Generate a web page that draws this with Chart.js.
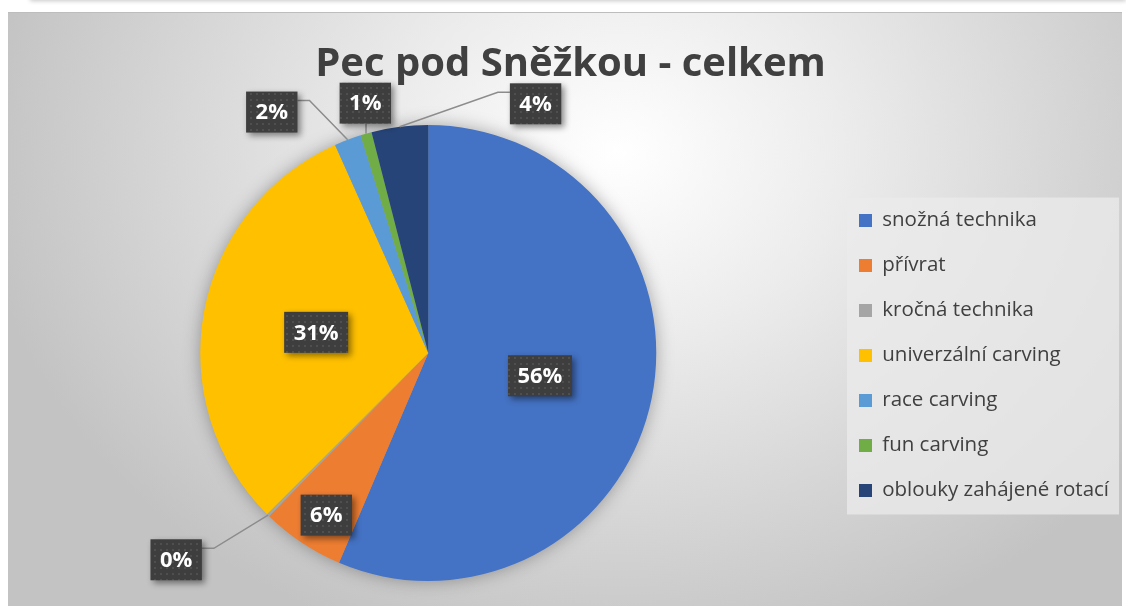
<!DOCTYPE html>
<html>
<head>
<meta charset="utf-8">
<title>Pec pod Sněžkou - celkem</title>
<script src="https://cdn.jsdelivr.net/npm/chart.js@4.4.1/dist/chart.umd.min.js"></script>
<style>
  html, body { margin: 0; padding: 0; background: #fff; }
  body { width: 1126px; height: 606px; overflow: hidden; position: relative; }
  #topbar { position: absolute; left: 30px; right: 0; top: -10px; height: 10px; background: #fff; box-shadow: 0 1px 4px rgba(0,0,0,0.22); }
  #frame {
    position: absolute; left: 8px; top: 12px; width: 1114px; height: 594px;
    border-top: 1px solid #bdbdbd;
    background: radial-gradient(ellipse 640px 520px at 610px 140px, #ffffff 0%, #ececec 35%, #c3c3c3 100%);
  }
  canvas { display: block; }
</style>
</head>
<body>
<div id="topbar"></div>
<div id="frame"><canvas id="pieChart" width="1114" height="593"></canvas></div>
<script>
const titleText = 'Pec pod Sněžkou - celkem';
const categories = ['snožná technika', 'přívrat', 'kročná technika', 'univerzální carving', 'race carving', 'fun carving', 'oblouky zahájené rotací'];
const shares = [56.4, 5.9, 0.2, 30.8, 1.9, 0.8, 4.0];
const sliceColors = ['#4472C4', '#ED7D31', '#A5A5A5', '#FFC000', '#5B9BD5', '#70AD47', '#264478'];

// where each data label sits: angle shift (deg) from slice middle, distance as part of radius
const labelLayout = [
    { angle: 0, radius: 0.5 },
    { angle: -1.5, radius: 0.84 },
    { angle: 6, radius: 1.43 },
    { angle: 0, radius: 0.5 },
    { angle: -12.3, radius: 1.26 },
    { angle: 1.7, radius: 1.13 },
    { angle: 30.5, radius: 1.19 }
];

const fontFamily = '"Open Sans", Lato, sans-serif';
const legendFontSize = 20.5;
const legendPadding = 24.5;
const legendBox = 13;

// dotted dark fill used by the label boxes
function makeDotPattern(ctx) {
    const tile = document.createElement('canvas');
    tile.width = 6;
    tile.height = 6;
    const t = tile.getContext('2d');
    t.fillStyle = '#3e3e3e';
    t.fillRect(0, 0, 6, 6);
    t.fillStyle = '#4f4f4f';
    t.fillRect(2, 2, 2, 2);
    return ctx.createPattern(tile, 'repeat');
}

const canvas = document.getElementById('pieChart');
const ctx = canvas.getContext('2d');

ctx.font = legendFontSize + 'px ' + fontFamily;
const widestLabel = Math.max(...categories.map(c => ctx.measureText(c).width));
const padRight = Math.max(0, 253 - (legendBox + legendFontSize / 2 + widestLabel));

const pieShadow = {
    id: 'pieShadow',
    beforeDatasetsDraw(chart) {
        const arc = chart.getDatasetMeta(0).data[0];
        if (!arc) return;
        const c = chart.ctx;
        c.save();
        c.shadowColor = 'rgba(0,0,0,0.35)';
        c.shadowBlur = 18;
        c.beginPath();
        c.arc(arc.x, arc.y, arc.outerRadius - 1, 0, Math.PI * 2);
        c.fillStyle = '#9a9a9a';
        c.fill();
        c.restore();
    }
};

const legendBackground = {
    id: 'legendBackground',
    beforeDraw(chart) {
        const lg = chart.legend;
        if (!lg || !lg.columnSizes) return;
        const col = lg.columnSizes[0];
        const titleH = lg._computeTitleHeight();
        const x0 = lg.left + legendPadding - 12;
        const x1 = lg.left + legendPadding + col.width + 10;
        const yStart = (lg.top + titleH + legendPadding + lg.bottom - col.height) / 2;
        const first = yStart + legendFontSize / 2;
        const y0 = first - 23;
        const y1 = first + (categories.length - 1) * (legendFontSize + legendPadding) + 24;
        const c = chart.ctx;
        c.save();
        c.fillStyle = 'rgba(235,235,235,0.75)';
        c.fillRect(x0, y0, x1 - x0, y1 - y0);
        c.restore();
    }
};

const sliceLabels = {
    id: 'sliceLabels',
    afterDatasetsDraw(chart) {
        const c = chart.ctx;
        const meta = chart.getDatasetMeta(0);
        const total = shares.reduce((a, b) => a + b, 0);
        const pattern = makeDotPattern(c);
        c.save();
        c.font = 'bold 22px ' + fontFamily;
        const boxes = meta.data.map((arc, i) => {
            const lay = labelLayout[i];
            const mid = (arc.startAngle + arc.endAngle) / 2;
            const a = mid + lay.angle * Math.PI / 180;
            const R = arc.outerRadius;
            const cx = arc.x + Math.cos(a) * R * lay.radius;
            const cy = arc.y + Math.sin(a) * R * lay.radius;
            const text = Math.round(shares[i] / total * 100) + '%';
            const w = c.measureText(text).width + 19;
            const h = 41;
            return {
                text, cx, cy, w, h,
                x0: cx - w / 2, y0: cy - h / 2, x1: cx + w / 2, y1: cy + h / 2,
                outside: lay.radius > 1,
                ex: arc.x + Math.cos(mid) * R,
                ey: arc.y + Math.sin(mid) * R
            };
        });

        // leader lines
        c.strokeStyle = '#8c8c8c';
        c.lineWidth = 1.5;
        boxes.filter(b => b.outside).forEach(b => {
            c.beginPath();
            const sy = b.y0 + 9;
            if (b.ex > b.x1) {
                c.moveTo(b.x1, sy);
                c.lineTo(b.x1 + 12, sy);
                c.lineTo(b.ex, b.ey);
            } else if (b.ex < b.x0) {
                c.moveTo(b.x0, sy);
                c.lineTo(b.x0 - 12, sy);
                c.lineTo(b.ex, b.ey);
            } else {
                c.moveTo(b.ex, b.ey > b.cy ? b.y1 : b.y0);
                c.lineTo(b.ex, b.ey);
            }
            c.stroke();
        });

        boxes.forEach(b => {
            c.save();
            c.shadowColor = 'rgba(0,0,0,0.45)';
            c.shadowBlur = 6;
            c.shadowOffsetX = 3;
            c.shadowOffsetY = 3;
            c.fillStyle = pattern;
            c.fillRect(b.x0, b.y0, b.w, b.h);
            c.restore();
            c.fillStyle = '#ffffff';
            c.textAlign = 'center';
            c.textBaseline = 'middle';
            c.fillText(b.text, b.cx, b.cy + 1);
        });
        c.restore();
    }
};

new Chart(ctx, {
    type: 'pie',
    data: {
        labels: categories,
        datasets: [{
            data: shares,
            backgroundColor: sliceColors,
            borderWidth: 0,
            hoverOffset: 0
        }]
    },
    options: {
        responsive: false,
        animation: false,
        radius: 228,
        layout: {
            padding: { left: 14, right: padRight, top: 0, bottom: 0 }
        },
        plugins: {
            title: {
                display: true,
                text: titleText,
                color: '#404040',
                font: { family: fontFamily, size: 40, weight: 'bold', lineHeight: 1.2 },
                padding: { top: 28, bottom: 11 }
            },
            legend: {
                position: 'right',
                title: {
                    display: true,
                    text: ' ',
                    font: { family: fontFamily, size: 20, lineHeight: 1.2 },
                    padding: 34
                },
                labels: {
                    color: '#404040',
                    font: { family: fontFamily, size: legendFontSize },
                    boxWidth: legendBox,
                    boxHeight: legendBox,
                    padding: legendPadding
                }
            },
            tooltip: { enabled: false }
        }
    },
    plugins: [legendBackground, pieShadow, sliceLabels]
});
</script>
</body>
</html>
